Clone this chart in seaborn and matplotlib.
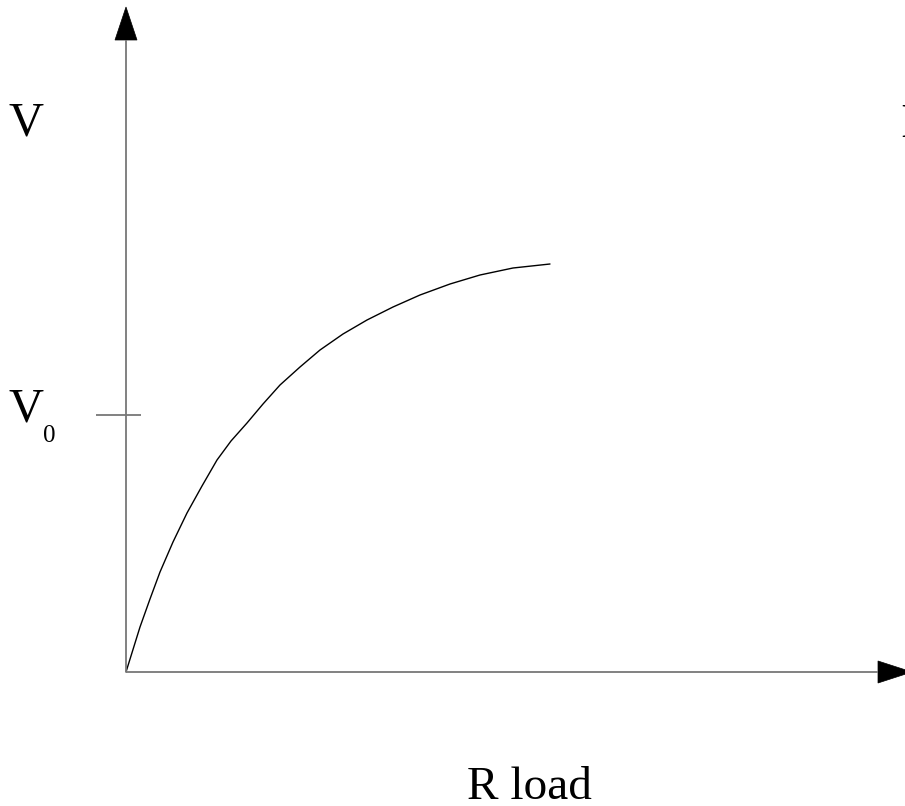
import matplotlib
matplotlib.use("Agg")
import matplotlib.pyplot as plt
from matplotlib.patches import Polygon
import seaborn as sns
import pandas as pd

# Load-voltage curve: V rises steeply from the origin and levels off at high load resistance
R_load = [0.00, 0.14, 0.24, 0.34, 0.47, 0.61, 0.76, 0.91, 1.05, 1.21, 1.37,
          1.54, 1.74, 1.94, 2.17, 2.41, 2.67, 2.94, 3.24, 3.54, 3.87, 4.24]
V_out = [0.00, 0.45, 0.73, 1.00, 1.30, 1.59, 1.86, 2.12, 2.31, 2.49, 2.68,
         2.87, 3.05, 3.22, 3.38, 3.52, 3.65, 3.77, 3.88, 3.97, 4.04, 4.08]
V0_level = 2.57

axis_label_y = "V"
axis_label_x = "R load"
tick_label_main = "V"
tick_label_sub = "0"

W, H = 905, 806
sns.set_theme(style="white")
plt.rcParams["font.family"] = ["Liberation Serif", "DejaVu Serif"]

fig = plt.figure(figsize=(W / 100, H / 100), dpi=100)
ax = fig.add_axes([0, 0, 1, 1])
ax.set_xlim(-1.26, 7.79)
ax.set_ylim(-1.34, 6.72)
ax.axis("off")

df = pd.DataFrame({"R": R_load, "V": V_out})
sns.lineplot(data=df, x="R", y="V", sort=False, color="black", lw=1.0, ax=ax)

axis_color = "#777777"
# axis lines
ax.plot([0, 0], [0, 6.32], color=axis_color, lw=1.3, solid_capstyle="butt")
ax.plot([0, 7.52], [0, 0], color=axis_color, lw=1.3, solid_capstyle="butt")
# V0 tick mark
ax.plot([-0.30, 0.15], [V0_level, V0_level], color=axis_color, lw=1.3, solid_capstyle="butt")

# arrow heads
ax.add_patch(Polygon([[0, 6.65], [-0.11, 6.32], [0.11, 6.32]], closed=True,
                     facecolor="black", edgecolor="black", lw=0.5))
ax.add_patch(Polygon([[7.86, 0], [7.52, 0.11], [7.52, -0.11]], closed=True,
                     facecolor="black", edgecolor="black", lw=0.5))

def put(text, x, y, size, ha="left"):
    fig.text(x / W, 1 - y / H, text, fontsize=size, ha=ha, va="baseline", color="black")

put(axis_label_y, 8, 135, 35)
put(tick_label_main, 8, 422, 35)
put(tick_label_sub, 43, 442, 18)
put(axis_label_x, 467, 799, 34)
put("I", 900, 137, 35)

fig.savefig("out.png", dpi=100, facecolor="white")
